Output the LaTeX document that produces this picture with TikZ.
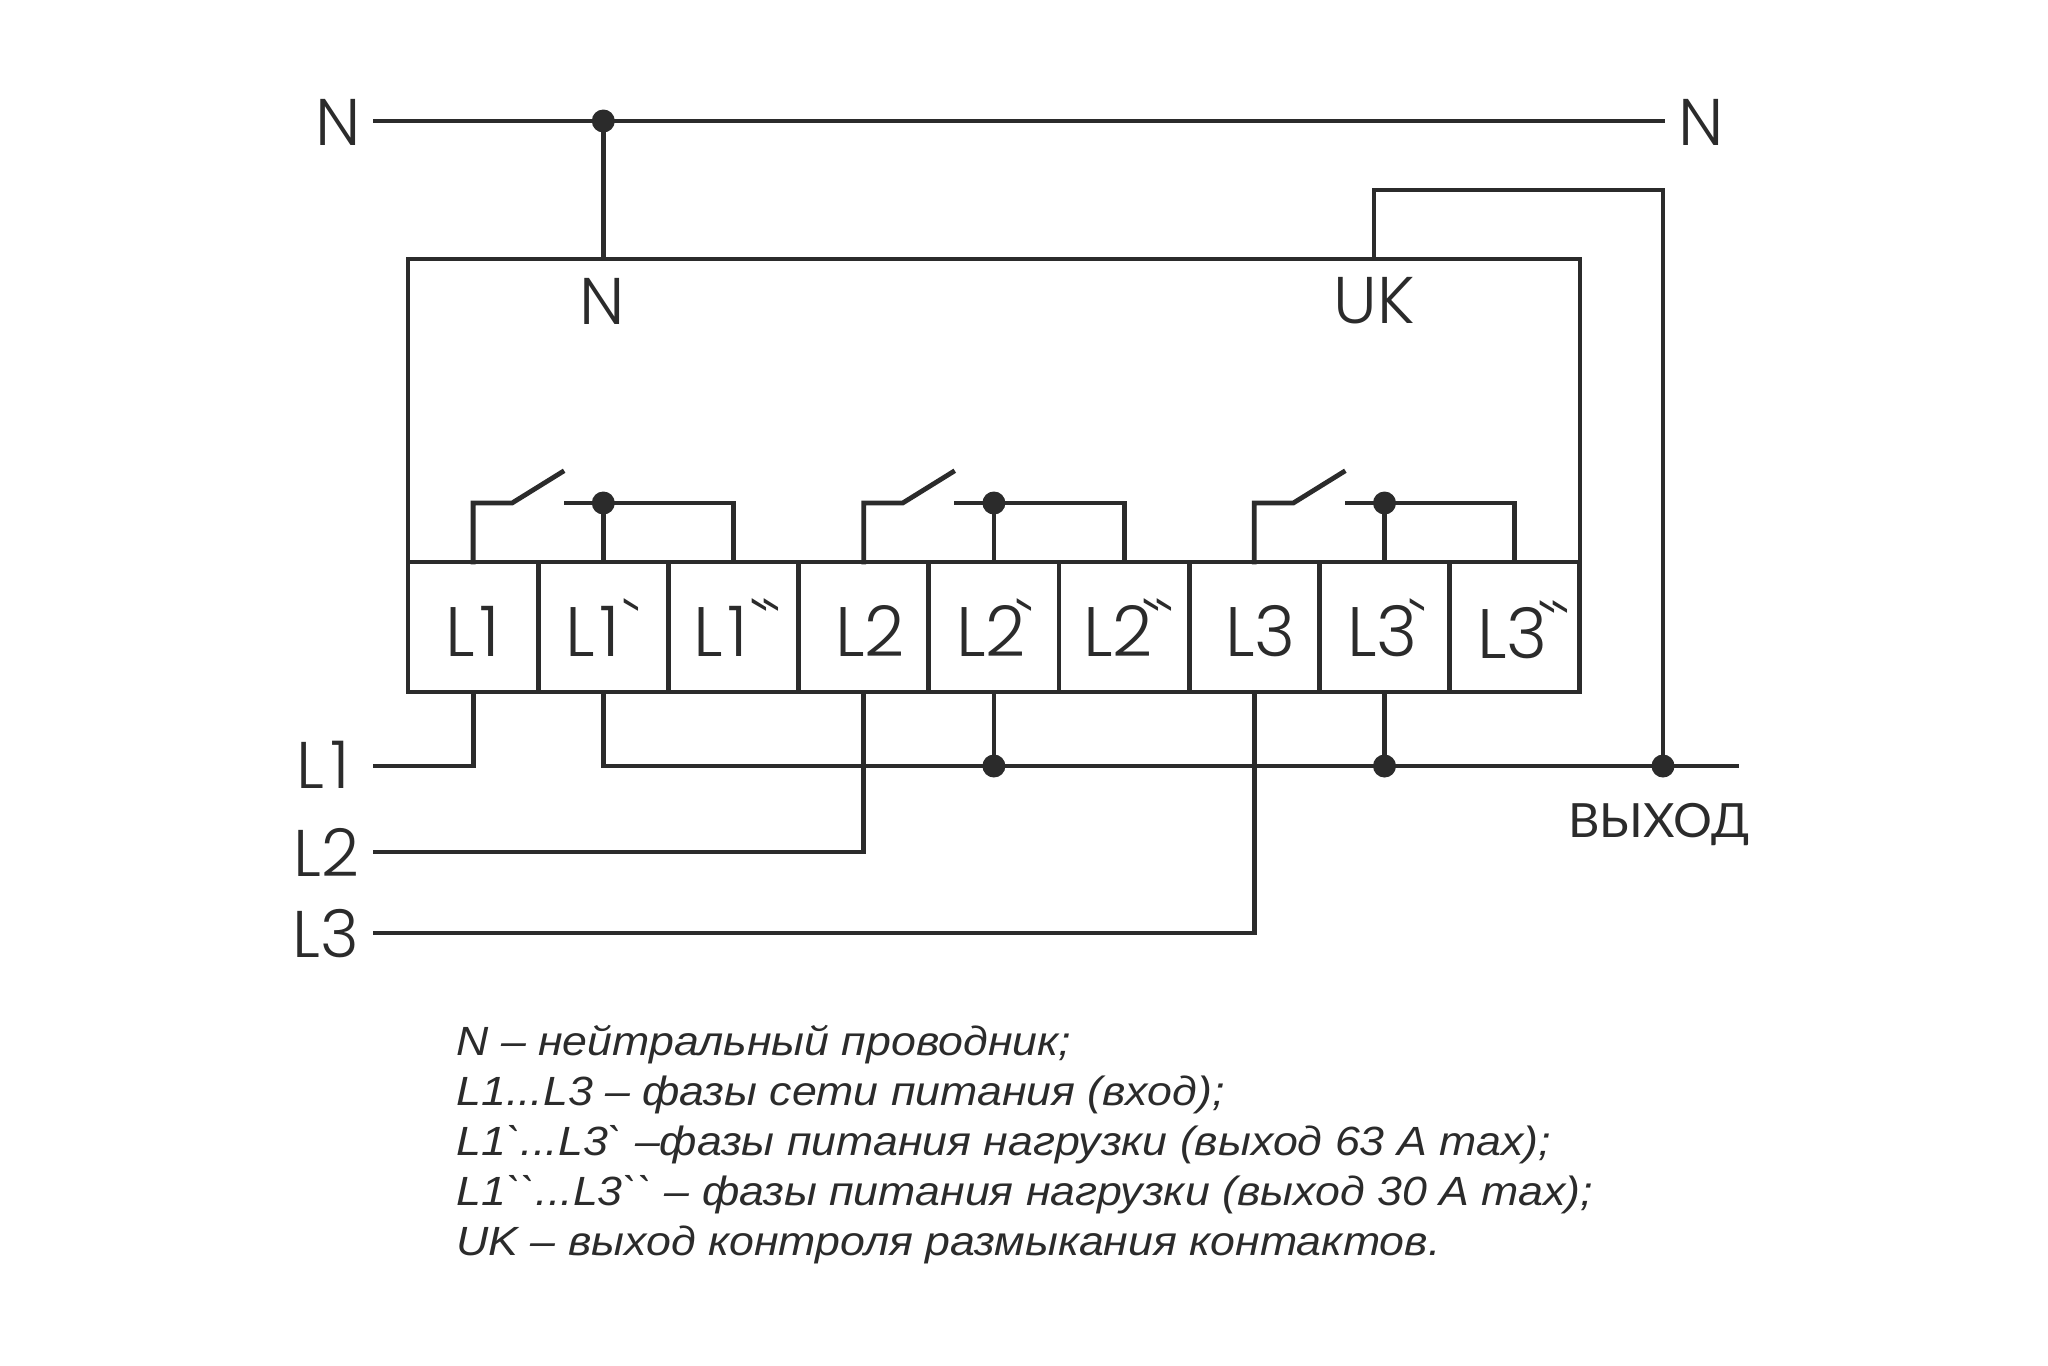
\documentclass[tikz,border=0pt]{standalone}
\usepackage{fontspec}
\newfontfamily\labfont[UprightFont=* Light]{Poppins}
\newfontfamily\cyrfont[FakeStretch=1.03]{Lato}
\newfontfamily\legfont[ItalicFeatures={FakeStretch=1.095}]{Liberation Sans}
\setmainfont{Liberation Sans}
\definecolor{ink}{HTML}{2B2B2B}
\tikzset{
  wire/.style={draw=ink,line width=2.4pt,line cap=rect},
  jdot/.style={circle,fill=ink,draw=none,minimum size=11.5pt,inner sep=0pt,outer sep=0pt},
  term/.style={draw=ink,line width=2.4pt,minimum width=65.1pt,minimum height=65pt,inner sep=0pt,outer sep=0pt},
  termlab/.style={anchor=base west,text=ink,inner sep=0pt,font=\labfont\fontsize{35}{35}\selectfont},
  biglab/.style={text=ink,inner sep=0pt,font=\labfont\fontsize{33}{33}\selectfont},
  outlab/.style={anchor=base west,text=ink,inner sep=0pt,font=\cyrfont\fontsize{23.6}{25}\selectfont},
  legend/.style={anchor=base west,text=ink,inner sep=0pt,font=\legfont\itshape\fontsize{20.4}{25}\selectfont},
}
\newcommand{\bq}{`\kern0pt}
\newcommand{\tqa}[1]{\kern#1\raisebox{2pt}{`}}
\newcommand{\tqb}{\kern-3pt\raisebox{2pt}{`}}
\begin{document}
\begin{tikzpicture}[x=0.5pt,y=-0.5pt]
\useasboundingbox (0,0) rectangle (2048,1365);
% device body
\node[wire,rectangle,minimum width=586pt,minimum height=151.5pt,inner sep=0pt,outer sep=0pt,anchor=north west] (dev) at (408,259) {};
% terminals
\node[term] (t1) at (473.1,627) {};
\node[term] (t2) at (603.3,627) {};
\node[term] (t3) at (733.5,627) {};
\node[term] (t4) at (863.7,627) {};
\node[term] (t5) at (993.9,627) {};
\node[term] (t6) at (1124.1,627) {};
\node[term] (t7) at (1254.3,627) {};
\node[term] (t8) at (1384.5,627) {};
\node[term] (t9) at (1514.7,627) {};
\node[termlab] (x1) at (445,656) {L\kern2.5pt 1};
\node[termlab] (x2) at (565,656) {L\kern2.5pt 1\tqa{1pt}};
\node[termlab] (x3) at (693,656) {L\kern2.5pt 1\tqa{1pt}\tqb};
\node[termlab] (x4) at (835,656) {L2};
\node[termlab] (x5) at (956,656) {L2\tqa{-5pt}};
\node[termlab] (x6) at (1083,656) {L2\tqa{-5pt}\tqb};
\node[termlab] (x7) at (1225,656) {L3};
\node[termlab] (x8) at (1347,656) {L3\tqa{-4.5pt}};
\node[termlab] (x9) at (1477,658) {L3\tqa{-4.5pt}\tqb};
% switch coordinates
\foreach \a/\b/\c/\i in {t1/t2/t3/1,t4/t5/t6/2,t7/t8/t9/3}{
  \node[jdot] (sw\i) at (\b.center |- 0,503) {};
  \coordinate (ka\i) at ([xshift=19.5pt]\a.center |- 0,503);
  \coordinate (kb\i) at ([xshift=44.5pt]\a.center |- 0,472);
  \coordinate (kc\i) at ([xshift=46.5pt]\a.center |- 0,503);
  \draw[wire,line join=miter] (\a.north) -- (\a.north |- ka\i) -- (ka\i) -- (kb\i);
  \draw[wire] (kc\i) -- (sw\i.center);
  \draw[wire] (sw\i.center) -- (\c.north |- sw\i) -- (\c.north);
  \draw[wire] (sw\i.center) -- (\b.north);
}
% top line
\coordinate (nl) at (375,121);
\coordinate (nr) at (1663,121);
\node[jdot] (nd) at (603.3,121) {};
\draw[wire] (nl) -- (nr);
\draw[wire] (nd.center) -- (nd.center |- dev.north);
% output bus
\node[jdot] (b2) at (t5.south |- 0,766) {};
\node[jdot] (b3) at (t8.south |- 0,766) {};
\node[jdot] (bo) at (1663,766) {};
\coordinate (bend) at (1737,766);
\draw[wire] (t2.south) -- (t2.south |- b2) -- (bend);
\draw[wire] (t5.south) -- (b2.center);
\draw[wire] (t8.south) -- (b3.center);
% UK wire
\coordinate (uk) at (1374,259);
\draw[wire] (uk) -- (1374,190) -| (nr |- bo);
% phases
\coordinate (l1) at (375,766);
\coordinate (l2) at (375,852);
\coordinate (l3) at (375,933);
\draw[wire] (l1) -- (l1 -| t1.south) -- (t1.south);
\draw[wire] (l2) -- (l2 -| t4.south) -- (t4.south);
\draw[wire] (l3) -- (l3 -| t7.south) -- (t7.south);
% labels
\node[biglab] (n1) at (338,122) {N};
\node[biglab] (n2) at (1701,122) {N};
\node[biglab] (n3) at (602,301) {N};
\node[biglab] (n4) at (1374,301) {UK};
\node[biglab] (p1) at (323,765) {L\kern3pt 1};
\node[biglab] (p2) at (326,852) {L2};
\node[biglab] (p3) at (326,934) {L3};
\node[outlab] (vyh) at (1568,837) {ВЫХОД};
% legend
\node[legend] (g1) at (456,1055) {N – нейтральный проводник;};
\node[legend] (g2) at (456,1105) {L1...L3 – фазы сети питания (вход);};
\node[legend] (g3) at (456,1155) {L1\bq...L3\bq\ –фазы питания нагрузки (выход 63 A max);};
\node[legend] (g4) at (456,1205) {L1\bq\bq...L3\bq\bq\ – фазы питания нагрузки (выход 30 A max);};
\node[legend] (g5) at (456,1255) {UK – выход контроля размыкания контактов.};
\end{tikzpicture}
\end{document}
